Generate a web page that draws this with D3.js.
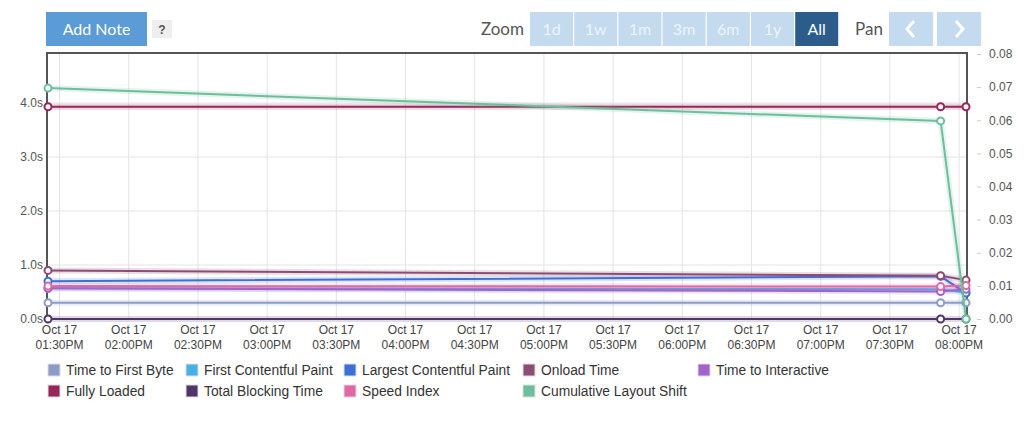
<!DOCTYPE html>
<html>
<head>
<meta charset="utf-8">
<script src="https://cdn.jsdelivr.net/npm/d3@7"></script>
<style>
  body { margin: 0; background: #fff; }
  svg { display: block; font-family: "Liberation Sans", Arial, sans-serif; }
  .btn-text { font-family: Lato, "Open Sans", sans-serif; }
</style>
</head>
<body>
<svg id="chart" width="1024" height="425"></svg>
<script>
// test runs (x values)
const runTimes = ["2022-10-17T13:25:00", "2022-10-17T19:52:00", "2022-10-17T20:03:00"];

// seconds, left axis
const ttfb = [0.30, 0.30, 0.30];
const fcp = [0.57, 0.55, 0.49];
const lcp = [0.70, 0.79, 0.48];
const onload = [0.90, 0.80, 0.72];
const tti = [0.57, 0.51, 0.55];
const fullyLoaded = [3.93, 3.93, 3.93];
const tbt = [0, 0, 0];
const speedIndex = [0.61, 0.60, 0.62];
// unitless, right axis
const cls = [0.0697, 0.0598, 0];

const leftTicks = [0, 1, 2, 3, 4];
const rightTicks = [0, 0.01, 0.02, 0.03, 0.04, 0.05, 0.06, 0.07, 0.08];
const zoomLabels = ["1d", "1w", "1m", "3m", "6m", "1y", "All"];

const series = [
    {name: "Time to First Byte", color: "#8c9cc6", values: ttfb, axis: "left"},
    {name: "First Contentful Paint", color: "#4ab0e4", values: fcp, axis: "left"},
    {name: "Largest Contentful Paint", color: "#3d6fd8", values: lcp, axis: "left"},
    {name: "Onload Time", color: "#8e4c74", values: onload, axis: "left"},
    {name: "Time to Interactive", color: "#a261cb", values: tti, axis: "left"},
    {name: "Fully Loaded", color: "#982658", values: fullyLoaded, axis: "left"},
    {name: "Total Blocking Time", color: "#4f3669", values: tbt, axis: "left"},
    {name: "Speed Index", color: "#e267a4", values: speedIndex, axis: "left"},
    {name: "Cumulative Layout Shift", color: "#6dbe9d", values: cls, axis: "right"}
];

const svg = d3.select("#chart");
const plot = {left: 47, right: 967, top: 53, bottom: 319};

const dates = runTimes.map(d => new Date(d));
const x = d3.scaleTime()
    .domain(d3.extent(dates))
    .range([plot.left + 1, plot.right - 1]);
const yLeft = d3.scaleLinear().domain([0, 4.926]).range([plot.bottom, plot.top]);
const yRight = d3.scaleLinear().domain([0, 0.08]).range([plot.bottom, plot.top + 1]);

// top buttons
svg.append("rect").attr("x", 46).attr("y", 12).attr("width", 101).attr("height", 34).attr("fill", "#5b9bd6");
svg.append("text").attr("class", "btn-text").attr("x", 96.5).attr("y", 35)
    .attr("text-anchor", "middle").attr("fill", "#fff").style("font-size", "16px").text("Add Note");
svg.append("rect").attr("x", 152).attr("y", 20).attr("width", 20).attr("height", 18).attr("fill", "#eeeeee");
svg.append("text").attr("x", 162).attr("y", 34).attr("text-anchor", "middle")
    .attr("fill", "#555").style("font-size", "12px").style("font-weight", "bold").text("?");

svg.append("text").attr("class", "btn-text").attr("x", 524).attr("y", 35).attr("text-anchor", "end")
    .attr("fill", "#555").style("font-size", "17px").text("Zoom");

const zoomBtn = svg.selectAll(".zoom-btn")
    .data(zoomLabels)
    .enter().append("g")
    .attr("class", "zoom-btn")
    .attr("transform", (d, i) => "translate(" + (530 + i * 44.2) + ",12)");
zoomBtn.append("rect")
    .attr("width", 43).attr("height", 34)
    .attr("fill", d => d == "All" ? "#2b5c8c" : "#c3daef");
zoomBtn.append("text")
    .attr("class", "btn-text")
    .attr("x", 21.5).attr("y", 23).attr("text-anchor", "middle")
    .attr("fill", d => d == "All" ? "#fff" : "#eef5fb")
    .style("font-size", "16px")
    .text(d => d);

svg.append("text").attr("class", "btn-text").attr("x", 855).attr("y", 35)
    .attr("fill", "#555").style("font-size", "17px").text("Pan");
[{x: 889, dir: -1}, {x: 937, dir: 1}].forEach(function (b) {
    svg.append("rect").attr("x", b.x).attr("y", 12).attr("width", 44).attr("height", 34).attr("fill", "#c3daef");
    let cx = b.x + 22, cy = 29;
    svg.append("path")
        .attr("d", "M" + (cx - 3 * b.dir) + "," + (cy - 8) + " L" + (cx + 4 * b.dir) + "," + cy + " L" + (cx - 3 * b.dir) + "," + (cy + 8))
        .attr("fill", "none").attr("stroke", "#fff").attr("stroke-width", 3);
});

// grid
const xTicks = d3.timeMinute.every(30).range(new Date("2022-10-17T13:30:00"), new Date("2022-10-17T20:01:00"));
svg.append("g").selectAll("line")
    .data(xTicks)
    .enter().append("line")
    .attr("x1", d => x(d)).attr("x2", d => x(d))
    .attr("y1", plot.top).attr("y2", plot.bottom)
    .attr("stroke", "#e4e4e4").attr("stroke-width", 1);
svg.append("g").selectAll("line")
    .data(leftTicks.slice(1))
    .enter().append("line")
    .attr("x1", plot.left).attr("x2", plot.right)
    .attr("y1", d => yLeft(d)).attr("y2", d => yLeft(d))
    .attr("stroke", "#e4e4e4").attr("stroke-width", 1);

// frame
svg.append("path")
    .attr("d", "M" + plot.left + "," + plot.bottom + " V" + plot.top + " H" + plot.right + " V" + plot.bottom)
    .attr("fill", "none").attr("stroke", "#555").attr("stroke-width", 2);

// left axis
svg.append("g")
    .attr("transform", "translate(" + (plot.left - 1) + ",0)")
    .call(d3.axisLeft(yLeft).tickValues(leftTicks).tickSize(0).tickPadding(3).tickFormat(d => d.toFixed(1) + "s"))
    .call(g => g.select(".domain").remove())
    .call(g => g.selectAll("text").attr("fill", "#555").style("font-size", "12px").attr("font-family", "Liberation Sans, Arial, sans-serif"));

// right axis
svg.append("g")
    .attr("transform", "translate(" + (plot.right + 10) + ",0)")
    .call(d3.axisRight(yRight).tickValues(rightTicks).tickSize(4).tickPadding(8).tickFormat(d3.format(".2f")))
    .call(g => g.select(".domain").remove())
    .call(g => g.selectAll("line").attr("stroke", "#ccc"))
    .call(g => g.selectAll("text").attr("fill", "#555").style("font-size", "12px").attr("font-family", "Liberation Sans, Arial, sans-serif"));

// x axis labels
const xLabel = svg.append("g").selectAll("text")
    .data(xTicks)
    .enter().append("text")
    .attr("x", d => Math.min(x(d), 960))
    .attr("y", 334)
    .attr("text-anchor", "middle")
    .attr("fill", "#444")
    .style("font-size", "12px");
xLabel.append("tspan").attr("x", d => Math.min(x(d), 960)).text(d3.timeFormat("%b %d"));
xLabel.append("tspan").attr("x", d => Math.min(x(d), 960)).attr("dy", 15).text(d3.timeFormat("%I:%M%p"));

// lines
function yFor(s) {
    return s.axis == "right" ? yRight : yLeft;
}
const lineGroups = svg.append("g").selectAll(".series")
    .data(series)
    .enter().append("g")
    .attr("class", "series");

lineGroups.append("path")
    .attr("d", s => d3.line().x((v, i) => x(dates[i])).y(v => yFor(s)(v))(s.values))
    .attr("fill", "none").attr("stroke", s => s.color)
    .attr("stroke-width", 6).attr("stroke-opacity", 0.18).attr("stroke-linejoin", "round");
lineGroups.append("path")
    .attr("d", s => d3.line().x((v, i) => x(dates[i])).y(v => yFor(s)(v))(s.values))
    .attr("fill", "none").attr("stroke", s => s.color)
    .attr("stroke-width", 2).attr("stroke-linejoin", "round");
lineGroups.selectAll("circle")
    .data(s => s.values.map((v, i) => ({s: s, v: v, i: i})))
    .enter().append("circle")
    .attr("cx", d => x(dates[d.i]))
    .attr("cy", d => yFor(d.s)(d.v))
    .attr("r", 3.5)
    .attr("fill", "#fff")
    .attr("stroke", d => d.s.color)
    .attr("stroke-width", 2);

// legend
const legendCols = [48, 186, 344, 523, 698];
const legend = svg.append("g").selectAll(".legend")
    .data(series)
    .enter().append("g")
    .attr("class", "legend")
    .attr("transform", function (d, i) {
        let row = i < 5 ? 0 : 1;
        let col = i < 5 ? i : i - 5;
        return "translate(" + legendCols[col] + "," + (364 + row * 21) + ")";
    });
legend.append("rect")
    .attr("width", 12).attr("height", 12)
    .attr("fill", d => d.color)
    .attr("stroke", "#ddd").attr("stroke-width", 1);
legend.append("text")
    .attr("x", 18).attr("y", 11)
    .attr("fill", "#333")
    .style("font-size", "13.8px")
    .text(d => d.name);
</script>
</body>
</html>
